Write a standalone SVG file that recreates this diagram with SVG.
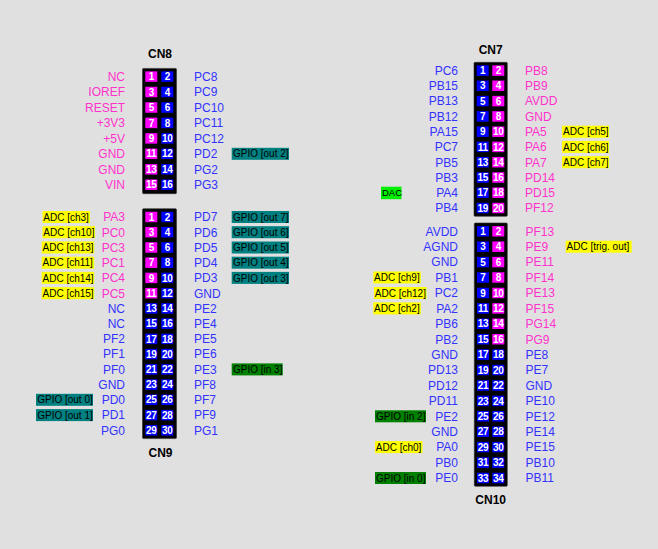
<svg xmlns="http://www.w3.org/2000/svg" width="658" height="549" viewBox="0 0 658 549">
<style>
text{font-family:"Liberation Sans",Arial,sans-serif}
.t text{font-size:12px}
.e{text-anchor:end}
.pk{fill:#ff33cc}
.bl{fill:#3333ff}
.fr{fill:#000;stroke:#333;stroke-width:0.6}
.pm{fill:#ff00ff}
.pb{fill:#0000ff}
.n{font-size:10px;font-weight:bold;fill:#fff;text-anchor:middle;letter-spacing:-0.3px}
.hd{font-size:12px;font-weight:bold;text-anchor:middle;fill:#000}
.tg{font-size:10px;fill:#000}
.adc{fill:#ffff00}
.go{fill:#008080}
.gi{fill:#008000}
.dac{fill:#00ee00}
</style>
<rect x="0" y="0" width="658" height="549" fill="#e0e0e0"/>
<g id="connectors"/>

<g id="CN8">
<text class="hd" x="160" y="57.5">CN8</text>
<rect class="fr" x="142.5" y="68.4" width="34" height="125.3" rx="1"/>
<g>
<rect class="pm" x="145.3" y="71.35" width="12" height="10.5"/><rect class="pb" x="161.3" y="71.35" width="12" height="10.5"/>
<rect class="pm" x="145.3" y="86.75" width="12" height="10.5"/><rect class="pb" x="161.3" y="86.75" width="12" height="10.5"/>
<rect class="pm" x="145.3" y="102.25" width="12" height="10.5"/><rect class="pb" x="161.3" y="102.25" width="12" height="10.5"/>
<rect class="pm" x="145.3" y="117.65" width="12" height="10.5"/><rect class="pb" x="161.3" y="117.65" width="12" height="10.5"/>
<rect class="pm" x="145.3" y="133.15" width="12" height="10.5"/><rect class="pb" x="161.3" y="133.15" width="12" height="10.5"/>
<rect class="pm" x="145.3" y="148.55" width="12" height="10.5"/><rect class="pb" x="161.3" y="148.55" width="12" height="10.5"/>
<rect class="pm" x="145.3" y="164.05" width="12" height="10.5"/><rect class="pb" x="161.3" y="164.05" width="12" height="10.5"/>
<rect class="pm" x="145.3" y="179.45" width="12" height="10.5"/><rect class="pb" x="161.3" y="179.45" width="12" height="10.5"/>
</g>
<g>
<text class="n" x="151.3" y="80.2">1</text><text class="n" x="167.3" y="80.2">2</text>
<text class="n" x="151.3" y="95.6">3</text><text class="n" x="167.3" y="95.6">4</text>
<text class="n" x="151.3" y="111.1">5</text><text class="n" x="167.3" y="111.1">6</text>
<text class="n" x="151.3" y="126.5">7</text><text class="n" x="167.3" y="126.5">8</text>
<text class="n" x="151.3" y="142">9</text><text class="n" x="167.3" y="142">10</text>
<text class="n" x="151.3" y="157.4">11</text><text class="n" x="167.3" y="157.4">12</text>
<text class="n" x="151.3" y="172.9">13</text><text class="n" x="167.3" y="172.9">14</text>
<text class="n" x="151.3" y="188.3">15</text><text class="n" x="167.3" y="188.3">16</text>
</g>
<g class="t">
<text class="pk e" x="125" y="80.9">NC</text><text class="bl" x="194" y="80.9">PC8</text>
<text class="pk e" x="125" y="96.3">IOREF</text><text class="bl" x="194" y="96.3">PC9</text>
<text class="pk e" x="125" y="111.8">RESET</text><text class="bl" x="194" y="111.8">PC10</text>
<text class="pk e" x="125" y="127.2">+3V3</text><text class="bl" x="194" y="127.2">PC11</text>
<text class="pk e" x="125" y="142.7">+5V</text><text class="bl" x="194" y="142.7">PC12</text>
<text class="pk e" x="125" y="158.1">GND</text><text class="bl" x="194" y="158.1">PD2</text>
<text class="pk e" x="125" y="173.6">GND</text><text class="bl" x="194" y="173.6">PG2</text>
<text class="pk e" x="125" y="189">VIN</text><text class="bl" x="194" y="189">PG3</text>
</g>
</g>

<g id="CN9">
<text class="hd" x="160.5" y="456.5">CN9</text>
<rect class="fr" x="142.5" y="208.7" width="34" height="229.9" rx="1"/>
<g>
<rect class="pm" x="145.3" y="211.75" width="12" height="10.5"/><rect class="pb" x="161.3" y="211.75" width="12" height="10.5"/>
<rect class="pm" x="145.3" y="226.95" width="12" height="10.5"/><rect class="pb" x="161.3" y="226.95" width="12" height="10.5"/>
<rect class="pm" x="145.3" y="242.25" width="12" height="10.5"/><rect class="pb" x="161.3" y="242.25" width="12" height="10.5"/>
<rect class="pm" x="145.3" y="257.45" width="12" height="10.5"/><rect class="pb" x="161.3" y="257.45" width="12" height="10.5"/>
<rect class="pm" x="145.3" y="272.65" width="12" height="10.5"/><rect class="pb" x="161.3" y="272.65" width="12" height="10.5"/>
<rect class="pm" x="145.3" y="287.95" width="12" height="10.5"/><rect class="pb" x="161.3" y="287.95" width="12" height="10.5"/>
<rect class="pb" x="145.3" y="303.15" width="12" height="10.5"/><rect class="pb" x="161.3" y="303.15" width="12" height="10.5"/>
<rect class="pb" x="145.3" y="318.35" width="12" height="10.5"/><rect class="pb" x="161.3" y="318.35" width="12" height="10.5"/>
<rect class="pb" x="145.3" y="333.65" width="12" height="10.5"/><rect class="pb" x="161.3" y="333.65" width="12" height="10.5"/>
<rect class="pb" x="145.3" y="348.85" width="12" height="10.5"/><rect class="pb" x="161.3" y="348.85" width="12" height="10.5"/>
<rect class="pb" x="145.3" y="364.15" width="12" height="10.5"/><rect class="pb" x="161.3" y="364.15" width="12" height="10.5"/>
<rect class="pb" x="145.3" y="379.35" width="12" height="10.5"/><rect class="pb" x="161.3" y="379.35" width="12" height="10.5"/>
<rect class="pb" x="145.3" y="394.55" width="12" height="10.5"/><rect class="pb" x="161.3" y="394.55" width="12" height="10.5"/>
<rect class="pb" x="145.3" y="409.85" width="12" height="10.5"/><rect class="pb" x="161.3" y="409.85" width="12" height="10.5"/>
<rect class="pb" x="145.3" y="425.05" width="12" height="10.5"/><rect class="pb" x="161.3" y="425.05" width="12" height="10.5"/>
</g>
<g>
<text class="n" x="151.3" y="220.6">1</text><text class="n" x="167.3" y="220.6">2</text>
<text class="n" x="151.3" y="235.8">3</text><text class="n" x="167.3" y="235.8">4</text>
<text class="n" x="151.3" y="251.1">5</text><text class="n" x="167.3" y="251.1">6</text>
<text class="n" x="151.3" y="266.3">7</text><text class="n" x="167.3" y="266.3">8</text>
<text class="n" x="151.3" y="281.5">9</text><text class="n" x="167.3" y="281.5">10</text>
<text class="n" x="151.3" y="296.8">11</text><text class="n" x="167.3" y="296.8">12</text>
<text class="n" x="151.3" y="312">13</text><text class="n" x="167.3" y="312">14</text>
<text class="n" x="151.3" y="327.2">15</text><text class="n" x="167.3" y="327.2">16</text>
<text class="n" x="151.3" y="342.5">17</text><text class="n" x="167.3" y="342.5">18</text>
<text class="n" x="151.3" y="357.7">19</text><text class="n" x="167.3" y="357.7">20</text>
<text class="n" x="151.3" y="373">21</text><text class="n" x="167.3" y="373">22</text>
<text class="n" x="151.3" y="388.2">23</text><text class="n" x="167.3" y="388.2">24</text>
<text class="n" x="151.3" y="403.4">25</text><text class="n" x="167.3" y="403.4">26</text>
<text class="n" x="151.3" y="418.7">27</text><text class="n" x="167.3" y="418.7">28</text>
<text class="n" x="151.3" y="433.9">29</text><text class="n" x="167.3" y="433.9">30</text>
</g>
<g class="t">
<text class="pk e" x="125" y="221.3">PA3</text><text class="bl" x="194" y="221.3">PD7</text>
<text class="pk e" x="125" y="236.5">PC0</text><text class="bl" x="194" y="236.5">PD6</text>
<text class="pk e" x="125" y="251.8">PC3</text><text class="bl" x="194" y="251.8">PD5</text>
<text class="pk e" x="125" y="267">PC1</text><text class="bl" x="194" y="267">PD4</text>
<text class="pk e" x="125" y="282.2">PC4</text><text class="bl" x="194" y="282.2">PD3</text>
<text class="pk e" x="125" y="297.5">PC5</text><text class="bl" x="194" y="297.5">GND</text>
<text class="bl e" x="125" y="312.7">NC</text><text class="bl" x="194" y="312.7">PE2</text>
<text class="bl e" x="125" y="327.9">NC</text><text class="bl" x="194" y="327.9">PE4</text>
<text class="bl e" x="125" y="343.2">PF2</text><text class="bl" x="194" y="343.2">PE5</text>
<text class="bl e" x="125" y="358.4">PF1</text><text class="bl" x="194" y="358.4">PE6</text>
<text class="bl e" x="125" y="373.7">PF0</text><text class="bl" x="194" y="373.7">PE3</text>
<text class="bl e" x="125" y="388.9">GND</text><text class="bl" x="194" y="388.9">PF8</text>
<text class="bl e" x="125" y="404.1">PD0</text><text class="bl" x="194" y="404.1">PF7</text>
<text class="bl e" x="125" y="419.4">PD1</text><text class="bl" x="194" y="419.4">PF9</text>
<text class="bl e" x="125" y="434.6">PG0</text><text class="bl" x="194" y="434.6">PG1</text>
</g>
</g>

<g id="CN7">
<text class="hd" x="490.7" y="54.3">CN7</text>
<rect class="fr" x="474" y="62.3" width="33.3" height="154" rx="1"/>
<g>
<rect class="pb" x="476.7" y="65.35" width="12" height="10.5"/><rect class="pm" x="492.3" y="65.35" width="12" height="10.5"/>
<rect class="pb" x="476.7" y="80.55" width="12" height="10.5"/><rect class="pm" x="492.3" y="80.55" width="12" height="10.5"/>
<rect class="pb" x="476.7" y="95.85" width="12" height="10.5"/><rect class="pm" x="492.3" y="95.85" width="12" height="10.5"/>
<rect class="pb" x="476.7" y="111.15" width="12" height="10.5"/><rect class="pm" x="492.3" y="111.15" width="12" height="10.5"/>
<rect class="pb" x="476.7" y="126.45" width="12" height="10.5"/><rect class="pm" x="492.3" y="126.45" width="12" height="10.5"/>
<rect class="pb" x="476.7" y="141.65" width="12" height="10.5"/><rect class="pm" x="492.3" y="141.65" width="12" height="10.5"/>
<rect class="pb" x="476.7" y="156.95" width="12" height="10.5"/><rect class="pm" x="492.3" y="156.95" width="12" height="10.5"/>
<rect class="pb" x="476.7" y="172.25" width="12" height="10.5"/><rect class="pm" x="492.3" y="172.25" width="12" height="10.5"/>
<rect class="pb" x="476.7" y="187.45" width="12" height="10.5"/><rect class="pm" x="492.3" y="187.45" width="12" height="10.5"/>
<rect class="pb" x="476.7" y="202.75" width="12" height="10.5"/><rect class="pm" x="492.3" y="202.75" width="12" height="10.5"/>
</g>
<g>
<text class="n" x="482.7" y="74.2">1</text><text class="n" x="498.3" y="74.2">2</text>
<text class="n" x="482.7" y="89.4">3</text><text class="n" x="498.3" y="89.4">4</text>
<text class="n" x="482.7" y="104.7">5</text><text class="n" x="498.3" y="104.7">6</text>
<text class="n" x="482.7" y="120">7</text><text class="n" x="498.3" y="120">8</text>
<text class="n" x="482.7" y="135.3">9</text><text class="n" x="498.3" y="135.3">10</text>
<text class="n" x="482.7" y="150.5">11</text><text class="n" x="498.3" y="150.5">12</text>
<text class="n" x="482.7" y="165.8">13</text><text class="n" x="498.3" y="165.8">14</text>
<text class="n" x="482.7" y="181.1">15</text><text class="n" x="498.3" y="181.1">16</text>
<text class="n" x="482.7" y="196.3">17</text><text class="n" x="498.3" y="196.3">18</text>
<text class="n" x="482.7" y="211.6">19</text><text class="n" x="498.3" y="211.6">20</text>
</g>
<g class="t">
<text class="bl e" x="458" y="74.9">PC6</text><text class="pk" x="525" y="74.9">PB8</text>
<text class="bl e" x="458" y="90.1">PB15</text><text class="pk" x="525" y="90.1">PB9</text>
<text class="bl e" x="458" y="105.4">PB13</text><text class="pk" x="525" y="105.4">AVDD</text>
<text class="bl e" x="458" y="120.7">PB12</text><text class="pk" x="525" y="120.7">GND</text>
<text class="bl e" x="458" y="136">PA15</text><text class="pk" x="525" y="136">PA5</text>
<text class="bl e" x="458" y="151.2">PC7</text><text class="pk" x="525" y="151.2">PA6</text>
<text class="bl e" x="458" y="166.5">PB5</text><text class="pk" x="525" y="166.5">PA7</text>
<text class="bl e" x="458" y="181.8">PB3</text><text class="pk" x="525" y="181.8">PD14</text>
<text class="bl e" x="458" y="197">PA4</text><text class="pk" x="525" y="197">PD15</text>
<text class="bl e" x="458" y="212.3">PB4</text><text class="pk" x="525" y="212.3">PF12</text>
</g>
</g>

<g id="CN10">
<text class="hd" x="490.7" y="504.3">CN10</text>
<rect class="fr" x="474.3" y="223" width="33" height="263.3" rx="1"/>
<g>
<rect class="pb" x="477" y="226.05" width="12" height="10.5"/><rect class="pm" x="492.3" y="226.05" width="12" height="10.5"/>
<rect class="pb" x="477" y="241.45" width="12" height="10.5"/><rect class="pm" x="492.3" y="241.45" width="12" height="10.5"/>
<rect class="pb" x="477" y="256.85" width="12" height="10.5"/><rect class="pm" x="492.3" y="256.85" width="12" height="10.5"/>
<rect class="pb" x="477" y="272.25" width="12" height="10.5"/><rect class="pm" x="492.3" y="272.25" width="12" height="10.5"/>
<rect class="pb" x="477" y="287.75" width="12" height="10.5"/><rect class="pm" x="492.3" y="287.75" width="12" height="10.5"/>
<rect class="pb" x="477" y="303.15" width="12" height="10.5"/><rect class="pm" x="492.3" y="303.15" width="12" height="10.5"/>
<rect class="pb" x="477" y="318.55" width="12" height="10.5"/><rect class="pm" x="492.3" y="318.55" width="12" height="10.5"/>
<rect class="pb" x="477" y="333.95" width="12" height="10.5"/><rect class="pm" x="492.3" y="333.95" width="12" height="10.5"/>
<rect class="pb" x="477" y="349.35" width="12" height="10.5"/><rect class="pb" x="492.3" y="349.35" width="12" height="10.5"/>
<rect class="pb" x="477" y="364.75" width="12" height="10.5"/><rect class="pb" x="492.3" y="364.75" width="12" height="10.5"/>
<rect class="pb" x="477" y="380.25" width="12" height="10.5"/><rect class="pb" x="492.3" y="380.25" width="12" height="10.5"/>
<rect class="pb" x="477" y="395.65" width="12" height="10.5"/><rect class="pb" x="492.3" y="395.65" width="12" height="10.5"/>
<rect class="pb" x="477" y="411.05" width="12" height="10.5"/><rect class="pb" x="492.3" y="411.05" width="12" height="10.5"/>
<rect class="pb" x="477" y="426.45" width="12" height="10.5"/><rect class="pb" x="492.3" y="426.45" width="12" height="10.5"/>
<rect class="pb" x="477" y="441.85" width="12" height="10.5"/><rect class="pb" x="492.3" y="441.85" width="12" height="10.5"/>
<rect class="pb" x="477" y="457.35" width="12" height="10.5"/><rect class="pb" x="492.3" y="457.35" width="12" height="10.5"/>
<rect class="pb" x="477" y="472.75" width="12" height="10.5"/><rect class="pb" x="492.3" y="472.75" width="12" height="10.5"/>
</g>
<g>
<text class="n" x="483" y="234.9">1</text><text class="n" x="498.3" y="234.9">2</text>
<text class="n" x="483" y="250.3">3</text><text class="n" x="498.3" y="250.3">4</text>
<text class="n" x="483" y="265.7">5</text><text class="n" x="498.3" y="265.7">6</text>
<text class="n" x="483" y="281.1">7</text><text class="n" x="498.3" y="281.1">8</text>
<text class="n" x="483" y="296.6">9</text><text class="n" x="498.3" y="296.6">10</text>
<text class="n" x="483" y="312">11</text><text class="n" x="498.3" y="312">12</text>
<text class="n" x="483" y="327.4">13</text><text class="n" x="498.3" y="327.4">14</text>
<text class="n" x="483" y="342.8">15</text><text class="n" x="498.3" y="342.8">16</text>
<text class="n" x="483" y="358.2">17</text><text class="n" x="498.3" y="358.2">18</text>
<text class="n" x="483" y="373.6">19</text><text class="n" x="498.3" y="373.6">20</text>
<text class="n" x="483" y="389.1">21</text><text class="n" x="498.3" y="389.1">22</text>
<text class="n" x="483" y="404.5">23</text><text class="n" x="498.3" y="404.5">24</text>
<text class="n" x="483" y="419.9">25</text><text class="n" x="498.3" y="419.9">26</text>
<text class="n" x="483" y="435.3">27</text><text class="n" x="498.3" y="435.3">28</text>
<text class="n" x="483" y="450.7">29</text><text class="n" x="498.3" y="450.7">30</text>
<text class="n" x="483" y="466.2">31</text><text class="n" x="498.3" y="466.2">32</text>
<text class="n" x="483" y="481.6">33</text><text class="n" x="498.3" y="481.6">34</text>
</g>
<g class="t">
<text class="bl e" x="458" y="235.6">AVDD</text><text class="pk" x="525.5" y="235.6">PF13</text>
<text class="bl e" x="458" y="251">AGND</text><text class="pk" x="525.5" y="251">PE9</text>
<text class="bl e" x="458" y="266.4">GND</text><text class="pk" x="525.5" y="266.4">PE11</text>
<text class="bl e" x="458" y="281.8">PB1</text><text class="pk" x="525.5" y="281.8">PF14</text>
<text class="bl e" x="458" y="297.3">PC2</text><text class="pk" x="525.5" y="297.3">PE13</text>
<text class="bl e" x="458" y="312.7">PA2</text><text class="pk" x="525.5" y="312.7">PF15</text>
<text class="bl e" x="458" y="328.1">PB6</text><text class="pk" x="525.5" y="328.1">PG14</text>
<text class="bl e" x="458" y="343.5">PB2</text><text class="pk" x="525.5" y="343.5">PG9</text>
<text class="bl e" x="458" y="358.9">GND</text><text class="bl" x="525.5" y="358.9">PE8</text>
<text class="bl e" x="458" y="374.3">PD13</text><text class="bl" x="525.5" y="374.3">PE7</text>
<text class="bl e" x="458" y="389.8">PD12</text><text class="bl" x="525.5" y="389.8">GND</text>
<text class="bl e" x="458" y="405.2">PD11</text><text class="bl" x="525.5" y="405.2">PE10</text>
<text class="bl e" x="458" y="420.6">PE2</text><text class="bl" x="525.5" y="420.6">PE12</text>
<text class="bl e" x="458" y="436">GND</text><text class="bl" x="525.5" y="436">PE14</text>
<text class="bl e" x="458" y="451.4">PA0</text><text class="bl" x="525.5" y="451.4">PE15</text>
<text class="bl e" x="458" y="466.9">PB0</text><text class="bl" x="525.5" y="466.9">PB10</text>
<text class="bl e" x="458" y="482.3">PE0</text><text class="bl" x="525.5" y="482.3">PB11</text>
</g>
</g>

<g id="tags">
<g id="tag-cn8-pd2"><rect class="go" x="231.7" y="147.8" width="57.3" height="12"/><text class="tg" x="233" y="157.4">GPIO [out 2]</text></g>

<g id="tag-cn9-pa3"><rect class="adc" x="42.5" y="211" width="47.5" height="12"/><text class="tg" x="43.3" y="220.6">ADC [ch3]</text></g>
<g id="tag-cn9-pc0"><rect class="adc" x="42.5" y="226.2" width="52.5" height="12"/><text class="tg" x="43.3" y="235.8">ADC [ch10]</text></g>
<g id="tag-cn9-pc3"><rect class="adc" x="41.7" y="241.5" width="52.5" height="12"/><text class="tg" x="42.5" y="251.1">ADC [ch13]</text></g>
<g id="tag-cn9-pc1"><rect class="adc" x="41.7" y="256.7" width="52.5" height="12"/><text class="tg" x="42.5" y="266.3">ADC [ch11]</text></g>
<g id="tag-cn9-pc4"><rect class="adc" x="41.7" y="271.9" width="52.5" height="12"/><text class="tg" x="42.5" y="281.5">ADC [ch14]</text></g>
<g id="tag-cn9-pc5"><rect class="adc" x="41.7" y="287.2" width="52.5" height="12"/><text class="tg" x="42.5" y="296.8">ADC [ch15]</text></g>

<g id="tag-cn9-pd7"><rect class="go" x="231.7" y="211" width="57.3" height="12"/><text class="tg" x="233" y="220.6">GPIO [out 7]</text></g>
<g id="tag-cn9-pd6"><rect class="go" x="231.7" y="226.2" width="57.3" height="12"/><text class="tg" x="233" y="235.8">GPIO [out 6]</text></g>
<g id="tag-cn9-pd5"><rect class="go" x="231.7" y="241.5" width="57.3" height="12"/><text class="tg" x="233" y="251.1">GPIO [out 5]</text></g>
<g id="tag-cn9-pd4"><rect class="go" x="231.7" y="256.7" width="57.3" height="12"/><text class="tg" x="233" y="266.3">GPIO [out 4]</text></g>
<g id="tag-cn9-pd3"><rect class="go" x="231.7" y="271.9" width="57.3" height="12"/><text class="tg" x="233" y="281.5">GPIO [out 3]</text></g>
<g id="tag-cn9-pe3"><rect class="gi" x="231.7" y="363.4" width="51" height="12"/><text class="tg" x="233" y="373">GPIO [in 3]</text></g>
<g id="tag-cn9-pd0"><rect class="go" x="36" y="393.8" width="57" height="12"/><text class="tg" x="37.2" y="403.4">GPIO [out 0]</text></g>
<g id="tag-cn9-pd1"><rect class="go" x="36" y="409.1" width="57" height="12"/><text class="tg" x="37.2" y="418.7">GPIO [out 1]</text></g>

<g id="tag-cn7-pa5"><rect class="adc" x="562" y="125.7" width="47" height="12"/><text class="tg" x="563" y="135.3">ADC [ch5]</text></g>
<g id="tag-cn7-pa6"><rect class="adc" x="562" y="140.9" width="47" height="12"/><text class="tg" x="563" y="150.5">ADC [ch6]</text></g>
<g id="tag-cn7-pa7"><rect class="adc" x="562" y="156.2" width="47" height="12"/><text class="tg" x="563" y="165.8">ADC [ch7]</text></g>
<g id="tag-cn7-pa4"><rect class="dac" x="381" y="186.7" width="20.5" height="12.5"/><text class="tg" x="382" y="196.3" style="font-size:9.5px">DAC</text></g>

<g id="tag-cn10-pe9"><rect class="adc" x="565.7" y="240.7" width="66" height="12"/><text class="tg" x="566.5" y="250.3">ADC [trig. out]</text></g>
<g id="tag-cn10-pb1"><rect class="adc" x="373.3" y="271.5" width="47.5" height="12"/><text class="tg" x="374.1" y="281.1">ADC [ch9]</text></g>
<g id="tag-cn10-pc2"><rect class="adc" x="374" y="287" width="52.5" height="12"/><text class="tg" x="374.8" y="296.6">ADC [ch12]</text></g>
<g id="tag-cn10-pa2"><rect class="adc" x="373.3" y="302.4" width="47.5" height="12"/><text class="tg" x="374.1" y="312">ADC [ch2]</text></g>
<g id="tag-cn10-pe2"><rect class="gi" x="375" y="410.3" width="51" height="12"/><text class="tg" x="376" y="419.9">GPIO [in 2]</text></g>
<g id="tag-cn10-pa0"><rect class="adc" x="375" y="441.1" width="47.5" height="12"/><text class="tg" x="375.8" y="450.7">ADC [ch0]</text></g>
<g id="tag-cn10-pe0"><rect class="gi" x="375" y="472" width="51" height="12"/><text class="tg" x="376" y="481.6">GPIO [in 0]</text></g>
</g>
</svg>
